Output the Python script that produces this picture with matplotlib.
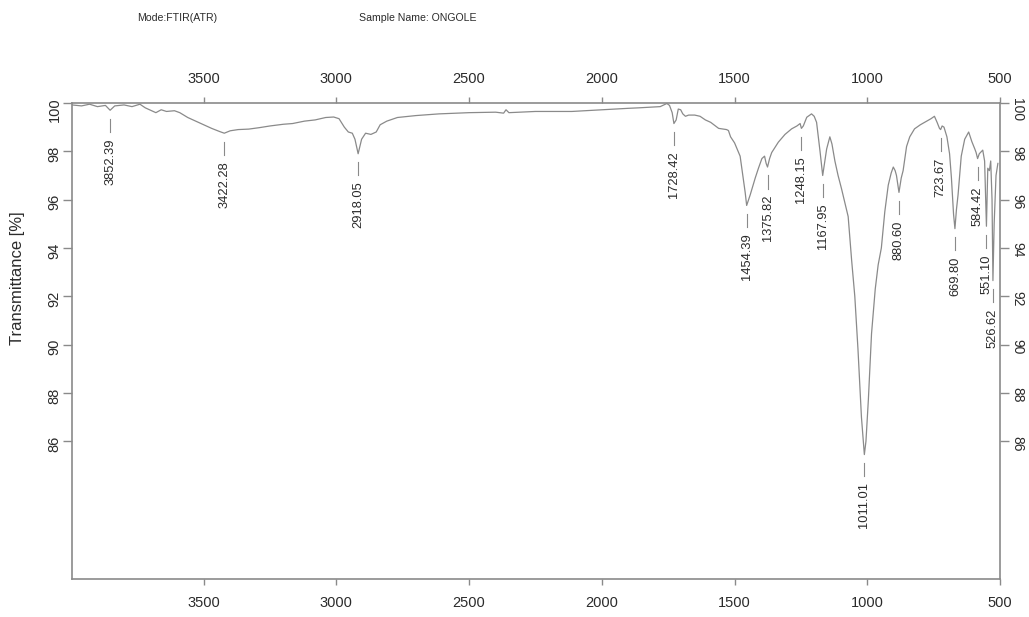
"""FTIR (ATR) transmittance spectrum with labelled absorption bands."""
import matplotlib
matplotlib.use("Agg")
import matplotlib.pyplot as plt
import numpy as np

plt.rcParams["font.family"] = ["Liberation Sans", "DejaVu Sans"]

# spectrum, read as (wavenumber [cm-1], transmittance [%]) pairs
wavenumber = [
    3996, 3960, 3930, 3900, 3870, 3852.39, 3835, 3800, 3770, 3740, 3720, 3700,
    3680, 3660, 3640, 3610, 3590, 3560, 3530, 3500, 3470, 3440, 3422.28, 3400,
    3370, 3330, 3290, 3250, 3200, 3165, 3120, 3080, 3040, 3010, 2990, 2970,
    2955, 2940, 2930, 2918.05, 2905, 2890, 2870, 2850, 2835, 2810, 2770, 2700,
    2613, 2500, 2400, 2370, 2361, 2350, 2250, 2113, 2000, 1900, 1861, 1780,
    1755, 1745, 1735, 1728.42, 1720, 1712, 1703, 1695, 1685, 1673, 1650, 1630,
    1610, 1590, 1560, 1530, 1523, 1515, 1500, 1479, 1460, 1454.39, 1447, 1441,
    1430, 1422, 1410, 1397, 1387, 1381, 1375.82, 1368, 1360, 1335, 1310, 1285,
    1265, 1253, 1248.15, 1241, 1228, 1210, 1200, 1191, 1178, 1167.95, 1160,
    1153, 1141, 1133, 1122, 1110, 1097, 1085, 1072, 1059, 1047, 1035, 1022,
    1011.01, 1005, 996, 984, 970, 959, 947, 934, 921, 910, 902, 895, 890,
    880.60, 872, 865, 852, 840, 822, 800, 784, 760, 747, 737, 728, 723.67,
    718, 711, 700, 690, 683, 675, 669.80, 664, 658, 646, 633, 618, 606, 595,
    590, 584.42, 578, 565, 558, 551.10, 546, 540, 535, 530, 526.62, 522, 515,
    508,
]
transmittance = [
    99.92, 99.88, 99.95, 99.85, 99.90, 99.70, 99.88, 99.92, 99.85, 99.95, 99.80, 99.70,
    99.60, 99.72, 99.65, 99.68, 99.60, 99.40, 99.25, 99.10, 98.95, 98.82, 98.75, 98.85,
    98.90, 98.92, 98.98, 99.05, 99.12, 99.15, 99.25, 99.30, 99.40, 99.42, 99.35, 99.00,
    98.80, 98.75, 98.50, 97.90, 98.50, 98.75, 98.70, 98.80, 99.10, 99.25, 99.40, 99.48,
    99.55, 99.60, 99.62, 99.58, 99.72, 99.60, 99.65, 99.65, 99.72, 99.78, 99.80, 99.85,
    99.98, 99.90, 99.60, 99.15, 99.30, 99.75, 99.72, 99.55, 99.45, 99.50, 99.50, 99.45,
    99.30, 99.20, 98.95, 98.90, 98.86, 98.60, 98.35, 97.80, 96.30, 95.76, 96.00, 96.20,
    96.60, 96.90, 97.30, 97.70, 97.80, 97.50, 97.35, 97.70, 97.95, 98.38, 98.70, 98.93,
    99.05, 99.15, 98.95, 99.05, 99.41, 99.55, 99.45, 99.20, 98.00, 97.00, 97.60,
    98.10, 98.60, 98.30, 97.60, 97.00, 96.45, 95.90, 95.30, 93.50, 92.00, 89.80, 87.00,
    85.45, 86.00, 87.70, 90.45, 92.30, 93.30, 94.00, 95.50, 96.60, 97.10, 97.35, 97.20, 97.00,
    96.30, 96.90, 97.20, 98.20, 98.60, 98.93, 99.10, 99.20, 99.35, 99.45, 99.20, 98.95, 98.90,
    99.05, 99.00, 98.60, 97.90, 96.90, 95.40, 94.80, 95.60, 96.20, 97.80, 98.50, 98.80, 98.40, 98.10,
    97.95, 97.70, 97.90, 98.05, 97.60, 94.90, 97.30, 97.20, 97.60, 96.00, 92.65, 95.00, 97.00,
    97.50,
]

# labelled band positions [cm-1]
peaks = [3852.39, 3422.28, 2918.05, 1728.42, 1454.39, 1375.82, 1248.15,
         1167.95, 1011.01, 880.60, 723.67, 669.80, 584.42, 551.10, 526.62]

y_ticks = list(range(86, 101, 2))
x_ticks = [3500, 3000, 2500, 2000, 1500, 1000, 500]

GREY = "#8a8a8a"
TEXT = "#2b2b2b"

fig = plt.figure(figsize=(10.29, 6.17), dpi=100)
ax = fig.add_axes([72 / 1029, 1 - 579 / 617, 928 / 1029, 476 / 617])

wn = np.array(wavenumber)
tr = np.array(transmittance)
ax.plot(wn, tr, color=GREY, lw=0.9)

# each band: short marker line under the dip, value written below it
order = np.argsort(wn)
for p in peaks:
    t = np.interp(p, wn[order], tr[order])
    ax.plot([p, p], [t - 0.35, t - 0.9], color=GREY, lw=0.8)
    ax.text(p, t - 1.15, f"{p:.2f}", rotation=90, ha="center", va="top",
            fontsize=9.3, color=TEXT)

ax.set_xlim(3996, 507)
ax.set_ylim(80.3, 100)
ax.set_xticks(x_ticks)
ax.set_yticks(y_ticks)

for side in ax.spines.values():
    side.set_color(GREY)
    side.set_linewidth(1.2)

ax.tick_params(axis="x", top=True, labeltop=True, length=4.5, width=1.0,
               color=GREY, labelsize=10.5, labelcolor=TEXT, pad=8)
ax.tick_params(axis="y", left=True, length=6.5, width=1.0,
               color=GREY, labelsize=10.5, labelcolor=TEXT, pad=7)
# right-hand copy of the scale sits tight against the frame
ax.tick_params(axis="y", right=True, labelright=True, pad=1.0)
for tk in ax.yaxis.get_major_ticks():
    tk.label1.set_rotation(90)
    tk.label2.set_rotation(-90)
    tk.label2.set_fontsize(10)

fig.text(18 / 1029, 1 - 278 / 617, "Transmittance [%]", rotation=90,
         ha="center", va="center", fontsize=12, color=TEXT)
fig.text(177 / 1029, 1 - 18 / 617, "Mode:FTIR(ATR)", ha="center",
         va="center", fontsize=7.6, color=TEXT)
fig.text(418 / 1029, 1 - 18 / 617, "Sample Name: ONGOLE", ha="center",
         va="center", fontsize=7.6, color=TEXT)

fig.savefig("out.png", dpi=100)
